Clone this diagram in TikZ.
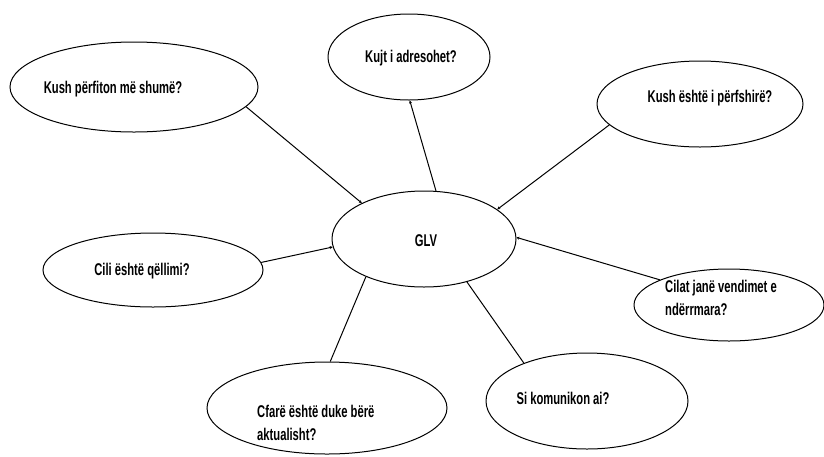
\documentclass[tikz,border=0pt]{standalone}
\usepackage{fontspec}
\newfontfamily\glvfont[FakeStretch=0.66]{Liberation Sans}
\usetikzlibrary{shapes.geometric,arrows.meta}

\begin{document}
\begin{tikzpicture}[x=1pt,y=-1pt,
    bubble/.style={draw,ellipse,line width=1pt,inner sep=0pt},
    qtext/.style={font=\glvfont\bfseries\fontsize{17}{23}\selectfont,inner sep=0pt,align=left},
    link/.style={line width=1pt},
    tip/.style={-{Stealth[length=3pt,width=3pt]}}]
    \useasboundingbox (0,0) rectangle (824,456);
    % Draw the central ellipse
    \node[bubble,minimum width=184pt,minimum height=96pt] (glv) at (424,239) {};
    \node[qtext] (glv-txt) at (426,241) {GLV};
    % Draw the question bubbles
    \node[bubble,minimum width=248pt,minimum height=90pt] (benefit) at (134,87) {};
    \node[qtext] (benefit-txt) at (113,89) {Kush përfiton më shumë?};
    \node[bubble,minimum width=162pt,minimum height=86pt] (address) at (409,57) {};
    \node[qtext] (address-txt) at (411,58) {Kujt i adresohet?};
    \node[bubble,minimum width=206pt,minimum height=86pt] (involved) at (700,104) {};
    \node[qtext] (involved-txt) at (710,98) {Kush është i përfshirë?};
    \node[bubble,minimum width=220pt,minimum height=74pt] (goal) at (153,270) {};
    \node[qtext] (goal-txt) at (142,271) {Cili është qëllimi?};
    \node[bubble,minimum width=190pt,minimum height=72pt] (decisions) at (729,305) {};
    \node[qtext,anchor=north west] (decisions-txt) at (665,280) {Cilat janë vendimet e\\ndërrmara?};
    \node[qtext,anchor=north west] (doing-txt) at (257,405) {Cfarë është duke bërë\\aktualisht?};
    \node[bubble,minimum width=240pt,minimum height=92pt] (doing) at (327,408) {};
    \node[bubble,minimum width=202pt,minimum height=96pt] (talk) at (587,401) {};
    \node[qtext] (talk-txt) at (563,398) {Si komunikon ai?};
    % Connect the bubbles to the centre
    \draw[link,tip] (benefit.-10.7) -- (glv.150.6);
    \draw[link,tip] (glv.76.8) -- (address.271);
    \draw[link,tip] (involved.193.4) -- (glv.22.7);
    \draw[link,tip] (decisions.160.8) -- (glv.1);
    \draw[link] (talk.149.3) -- (glv.-45.7);
    \draw[link] (doing.86) -- (glv.213.7);
    \draw[link,tip] (goal.4.2) -- (glv.185);
\end{tikzpicture}
\end{document}
